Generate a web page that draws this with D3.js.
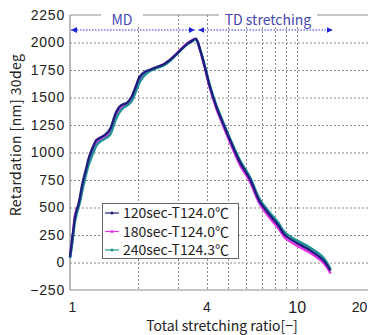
<!DOCTYPE html>
<html>
<head>
<meta charset="utf-8">
<script src="https://cdn.jsdelivr.net/npm/d3@7"></script>
<style>
  body { margin: 0; background: #fff; }
  svg { display: block; font-family: "Noto Sans CJK JP", "DejaVu Sans", sans-serif; }
</style>
</head>
<body>
<div id="chart"></div>
<script>
// data
const ratio = [1.00, 1.02, 1.034, 1.05, 1.07, 1.09, 1.107, 1.125, 1.144, 1.165, 1.184, 1.21, 1.246, 1.28, 1.31, 1.36, 1.426, 1.50, 1.55, 1.60, 1.66, 1.72, 1.78, 1.87, 1.95, 2.03, 2.14, 2.25, 2.40, 2.58, 2.75, 2.90, 3.10, 3.30, 3.45, 3.59, 3.75, 3.93, 4.14, 4.42, 4.73, 5.15, 5.62, 6.21, 6.87, 7.6, 8.27, 8.86, 9.8, 11.4, 13.06, 14.1];
const ret120 = [50, 200, 295, 400, 477, 530, 598, 680, 750, 815, 871, 950, 1023, 1080, 1114, 1135, 1160, 1210, 1290, 1370, 1420, 1440, 1450, 1507, 1600, 1689, 1735, 1752, 1775, 1800, 1840, 1880, 1940, 1990, 2015, 2035, 1930, 1780, 1598, 1416, 1265, 1083, 910, 760, 553, 432, 341, 250, 189, 114, 23, -75];
const ret180 = [50, 180, 280, 420, 480, 520, 570, 650, 720, 790, 845, 920, 990, 1050, 1090, 1120, 1140, 1180, 1250, 1330, 1390, 1420, 1435, 1480, 1570, 1660, 1720, 1745, 1770, 1800, 1840, 1885, 1945, 1995, 2020, 2030, 1925, 1770, 1585, 1400, 1245, 1060, 885, 735, 530, 405, 315, 225, 165, 90, 0, -100];
const ret240 = [40, 150, 250, 360, 440, 500, 550, 620, 690, 760, 820, 890, 960, 1020, 1065, 1100, 1125, 1160, 1230, 1310, 1370, 1405, 1425, 1465, 1550, 1640, 1705, 1740, 1765, 1790, 1830, 1875, 1935, 1985, 2010, 2025, 1940, 1790, 1610, 1430, 1280, 1100, 930, 780, 575, 455, 365, 275, 212, 138, 48, -60];
const seriesNames = ["120sec-T124.0℃", "180sec-T124.0℃", "240sec-T124.3℃"];
const seriesColors = ["#1e1e7e", "#e832e8", "#1f9494"];
const yTicks = [-250, 0, 250, 500, 750, 1000, 1250, 1500, 1750, 2000, 2250];
const xTicks = [1, 4, 10, 20];
const xGrid = [2, 3, 4, 5, 6, 7, 8, 9, 10];
const mdRange = [1.0, 3.55];
const tdRange = [3.65, 14.4];

const drawChart = () => {
  const width = 368;
  const height = 335;
  const margin = { top: 15, right: 3, bottom: 45, left: 70 };

  const svg = d3
    .select("#chart")
    .append("svg")
    .attr("width", width)
    .attr("height", height);

  const xScale = d3
    .scaleLog()
    .domain([1, 20])
    .range([margin.left, width - margin.right]);
  const yScale = d3
    .scaleLinear()
    .domain([-250, 2250])
    .range([height - margin.bottom, margin.top]);

  // grid
  const grid = svg.append("g").attr("stroke", "#8a8a8a").attr("stroke-dasharray", "2,2");
  grid
    .selectAll("line.h")
    .data(yTicks.filter((d) => d > -250 && d < 2250))
    .join("line")
    .attr("class", "h")
    .attr("x1", margin.left)
    .attr("x2", width)
    .attr("y1", (d) => yScale(d) + 0.5)
    .attr("y2", (d) => yScale(d) + 0.5);
  grid
    .selectAll("line.v")
    .data(xGrid)
    .join("line")
    .attr("class", "v")
    .attr("x1", (d) => Math.round(xScale(d)) + 0.5)
    .attr("x2", (d) => Math.round(xScale(d)) + 0.5)
    .attr("y1", margin.top)
    .attr("y2", height - margin.bottom);

  // frame
  const frame = svg.append("g").attr("stroke", "#8c8c8c").attr("stroke-width", 1.2);
  frame.append("line").attr("x1", margin.left).attr("x2", margin.left).attr("y1", margin.top).attr("y2", height - margin.bottom);
  frame.append("line").attr("x1", margin.left).attr("x2", width).attr("y1", height - margin.bottom).attr("y2", height - margin.bottom);
  frame.append("line").attr("x1", margin.left).attr("x2", width).attr("y1", margin.top).attr("y2", margin.top);

  // axes
  const yAxis = d3.axisLeft(yScale).tickValues(yTicks).tickFormat(d3.format("d")).tickSize(0).tickPadding(5);
  const yAxisGroup = svg
    .append("g")
    .attr("transform", `translate(${margin.left},0)`)
    .call(yAxis);
  yAxisGroup.select(".domain").remove();
  yAxisGroup.selectAll("text").attr("font-size", 14).attr("fill", "#222").style("letter-spacing", "0.8px");

  const xAxis = d3.axisBottom(xScale).tickValues(xTicks).tickFormat(d3.format("d")).tickSize(0).tickPadding(12);
  const xAxisGroup = svg
    .append("g")
    .attr("transform", `translate(0,${height - margin.bottom})`)
    .call(xAxis);
  xAxisGroup.select(".domain").remove();
  xAxisGroup
    .selectAll("text")
    .attr("font-size", (d) => (d == 10 ? 16 : 14))
    .attr("dx", (d) => (d == 20 ? -6 : d == 1 ? 2 : 0))
    .attr("fill", "#222");

  svg
    .append("text")
    .attr("x", 222)
    .attr("y", 331)
    .attr("text-anchor", "middle")
    .attr("font-size", 14)
    .attr("fill", "#222")
    .text("Total stretching ratio[−]");

  svg
    .append("text")
    .attr("transform", "translate(21,135) rotate(-90)")
    .attr("text-anchor", "middle")
    .attr("font-size", 14)
    .attr("fill", "#222")
    .style("letter-spacing", "0.4px")
    .text("Retardation [nm] 30deg");

  // MD / TD arrows
  svg
    .append("defs")
    .selectAll("marker")
    .data(["arrowEnd", "arrowStart"])
    .join("marker")
    .attr("id", (d) => d)
    .attr("viewBox", "0 0 10 10")
    .attr("refX", (d) => (d == "arrowEnd" ? 10 : 0))
    .attr("refY", 5)
    .attr("markerWidth", 6)
    .attr("markerHeight", 6)
    .attr("markerUnits", "userSpaceOnUse")
    .attr("orient", "auto")
    .append("path")
    .attr("d", (d) => (d == "arrowEnd" ? "M0,0L10,5L0,10Z" : "M10,0L0,5L10,10Z"))
    .attr("fill", "#2020d8");

  const labels = [
    { text: "MD", range: mdRange, cx: 122, w: 42 },
    { text: "TD stretching", range: tdRange, cx: 268, w: 98 },
  ];
  labels.forEach((l) => {
    svg
      .append("line")
      .attr("x1", xScale(l.range[0]) + 1)
      .attr("x2", xScale(l.range[1]))
      .attr("y1", 30)
      .attr("y2", 30)
      .attr("stroke", "#3030e0")
      .attr("stroke-width", 1)
      .attr("stroke-dasharray", "1.5,1.5")
      .attr("marker-start", "url(#arrowStart)")
      .attr("marker-end", "url(#arrowEnd)");
    svg
      .append("rect")
      .attr("x", l.cx - l.w / 2)
      .attr("y", 12)
      .attr("width", l.w)
      .attr("height", 15)
      .attr("fill", "#fff");
    svg
      .append("text")
      .attr("x", l.cx)
      .attr("y", 25)
      .attr("text-anchor", "middle")
      .attr("font-size", 14)
      .attr("fill", "#4646b4")
      .text(l.text);
  });

  // lines
  const series = [ret180, ret240, ret120];
  const order = [1, 2, 0];
  const line = d3
    .line()
    .x((d, i) => xScale(ratio[i]))
    .y((d) => yScale(d))
    .curve(d3.curveCatmullRom);
  svg
    .append("g")
    .attr("fill", "none")
    .attr("stroke-width", 2.4)
    .attr("stroke-linejoin", "round")
    .selectAll("path")
    .data(series)
    .join("path")
    .attr("stroke", (d, i) => seriesColors[order[i]])
    .attr("d", line);

  // legend
  const legend = svg.append("g").attr("transform", "translate(102,203)");
  legend
    .append("rect")
    .attr("x", 0.5)
    .attr("y", 0.5)
    .attr("width", 136)
    .attr("height", 55)
    .attr("fill", "#fff")
    .attr("stroke", "#666");
  const items = legend
    .selectAll("g")
    .data(seriesNames)
    .join("g")
    .attr("transform", (d, i) => `translate(0,${10 + i * 18.5})`);
  items
    .append("line")
    .attr("x1", 3)
    .attr("x2", 17)
    .attr("stroke", (d, i) => seriesColors[i])
    .attr("stroke-width", 1.2);
  items
    .append("circle")
    .attr("cx", 10)
    .attr("r", 1.6)
    .attr("fill", (d, i) => seriesColors[i]);
  items
    .append("text")
    .attr("x", 21)
    .attr("dy", "0.36em")
    .attr("font-size", 14)
    .attr("fill", "#222")
    .text((d) => d);
};

drawChart();
</script>
</body>
</html>
